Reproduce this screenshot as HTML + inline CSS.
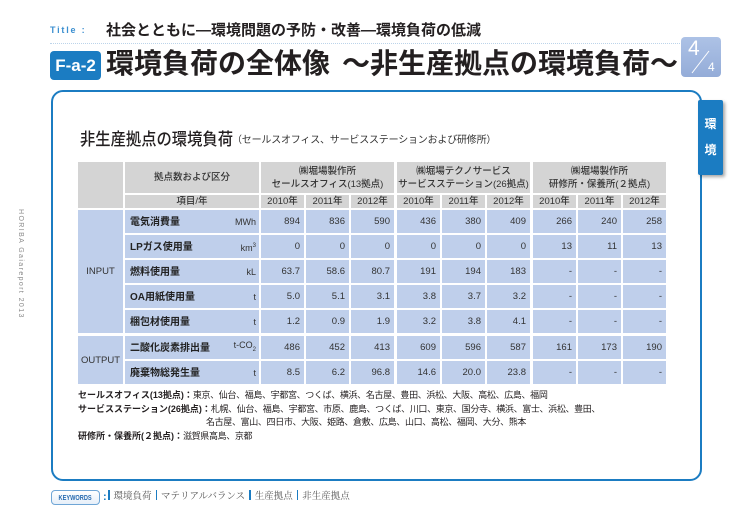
<!DOCTYPE html>
<html><head><meta charset="utf-8">
<style>
*{margin:0;padding:0;box-sizing:border-box}
html,body{width:746px;height:527px;background:#fff;overflow:hidden}
body{position:relative;font-family:"Liberation Sans","Noto Sans CJK JP",sans-serif;color:#231f20}
.a{position:absolute;white-space:nowrap}
.row{position:absolute;left:0;width:746px;height:23px}
.row>div{position:absolute;top:0;height:100%;background:#bfcfeb;display:flex;align-items:center;font-size:9.5px;color:#333;white-space:nowrap;line-height:12px}
.row>.it{left:125px;width:134px;justify-content:space-between;padding:0 3px 0 5px}
.it b{font-size:10px;color:#222;font-weight:bold;position:relative;top:1.5px}
.it span{font-size:9px;color:#333}
.y{justify-content:flex-end;padding-right:4px;width:43px}
.y0{left:261px}.y1{left:306px}.y2{left:351px}.y3{left:397px}.y4{left:442px}.y5{left:487px}.y6{left:533px}.y7{left:578px}.y8{left:623px}
.h{position:absolute;background:#d4d4d4;display:flex;align-items:center;justify-content:center;font-size:9.5px;color:#333;white-space:nowrap;font-weight:500;text-align:center;line-height:13px}
.cat{position:absolute;left:78px;width:45px;background:#bfcfeb;display:flex;align-items:center;justify-content:center;font-size:9.5px;color:#333}
.fn{position:absolute;left:78px;font-size:9px;color:#231f20;white-space:nowrap;line-height:13px}
.fn b{font-weight:bold}
.fn span{letter-spacing:-0.35px}
.kw{font-family:"Liberation Serif","Noto Serif CJK JP","Noto Serif CJK SC",serif;font-size:9.5px;color:#555}
.bar{display:inline-block;width:1.5px;height:10px;background:#1b7cc2;margin:0 4px;vertical-align:-1px}
</style></head><body>

<!-- Title row -->
<div class="a" style="left:50px;top:24px;font-size:9px;font-weight:bold;color:#3b8fd0;letter-spacing:1.8px;line-height:12px">Title :</div>
<div class="a" style="left:106px;top:21px;font-size:15px;font-weight:bold;line-height:19px">社会とともに―環境問題の予防・改善―環境負荷の低減</div>
<div class="a" style="left:50px;top:43px;width:630px;border-top:1.5px dotted #bcd4ea"></div>

<!-- F-a-2 badge & heading -->
<div class="a" style="left:50px;top:51px;width:51px;height:29px;background:#1b7cc2;border-radius:4px;color:#fff;font-family:'Liberation Sans Narrow','Liberation Sans',sans-serif;font-weight:bold;font-size:17px;display:flex;align-items:center;justify-content:center">F-a-2</div>
<div class="a" style="left:106px;top:49px;font-size:28px;font-weight:bold;line-height:30px">環境負荷の全体像</div>
<div class="a" style="left:342px;top:49px;font-size:28px;font-weight:bold;line-height:30px">～非生産拠点の環境負荷～</div>

<!-- 4/4 badge -->
<div class="a" style="left:681px;top:37px;width:40px;height:40px;border-radius:4px;background:linear-gradient(#adc2e6,#94acd8)"></div>
<div class="a" style="left:688px;top:37px;font-size:21px;color:#fff;line-height:24px">4</div>
<svg class="a" style="left:681px;top:37px" width="40" height="40"><line x1="11" y1="36" x2="28" y2="14" stroke="#fff" stroke-width="1"/></svg>
<div class="a" style="left:708px;top:60px;font-size:12px;color:#fff;line-height:14px">4</div>

<!-- Main box -->
<div class="a" style="left:51px;top:90px;width:651px;height:391px;border:2.5px solid #1b7cc2;border-radius:12px"></div>

<!-- Tab -->
<div class="a" style="left:698px;top:100px;width:25px;height:75px;background:#1b7cc2;border-radius:2px;box-shadow:2px 2px 3px rgba(0,0,0,0.35)"></div>
<div class="a" style="left:698px;top:117px;width:25px;text-align:center;color:#fff;font-weight:bold;font-size:12px;line-height:14px">環</div>
<div class="a" style="left:698px;top:143px;width:25px;text-align:center;color:#fff;font-weight:bold;font-size:12px;line-height:14px">境</div>

<!-- Side vertical text -->
<div class="a" style="left:16px;top:209px;writing-mode:vertical-rl;font-size:7px;letter-spacing:1.4px;color:#8a8a8a;line-height:8px">HORIBA Gaiareport 2013</div>

<!-- Subheading -->
<div class="a" style="left:80px;top:129px;font-size:17px;font-weight:500;line-height:22px;color:#231f20;transform:scaleX(0.9);transform-origin:0 0">非生産拠点の環境負荷</div>
<div class="a" style="left:232px;top:134px;font-size:10px;line-height:14px;color:#333;letter-spacing:-0.2px">（セールスオフィス、サービスステーションおよび研修所）</div>

<!-- Table headers -->
<div class="h" style="left:78px;top:162px;width:45px;height:46px"></div>
<div class="h" style="left:125px;top:162px;width:134px;height:31px">拠点数および区分</div>
<div class="h" style="left:261px;top:162px;width:133px;height:31px">㈱堀場製作所<br>セールスオフィス(13拠点)</div>
<div class="h" style="left:397px;top:162px;width:133px;height:31px">㈱堀場テクノサービス<br>サービスステーション(26拠点)</div>
<div class="h" style="left:533px;top:162px;width:133px;height:31px">㈱堀場製作所<br>研修所・保養所(２拠点)</div>

<div class="h" style="left:125px;top:195px;width:134px;height:13px">項目/年</div>
<div class="h" style="left:261px;top:195px;width:43px;height:13px">2010年</div>
<div class="h" style="left:306px;top:195px;width:43px;height:13px">2011年</div>
<div class="h" style="left:351px;top:195px;width:43px;height:13px">2012年</div>
<div class="h" style="left:397px;top:195px;width:43px;height:13px">2010年</div>
<div class="h" style="left:442px;top:195px;width:43px;height:13px">2011年</div>
<div class="h" style="left:487px;top:195px;width:43px;height:13px">2012年</div>
<div class="h" style="left:533px;top:195px;width:43px;height:13px">2010年</div>
<div class="h" style="left:578px;top:195px;width:43px;height:13px">2011年</div>
<div class="h" style="left:623px;top:195px;width:43px;height:13px">2012年</div>

<div class="cat" style="top:210px;height:123px">INPUT</div>
<div class="cat" style="top:336px;height:48px">OUTPUT</div>

<div class="row" style="top:210px">
 <div class="it"><b>電気消費量</b><span>MWh</span></div>
 <div class="y y0">894</div><div class="y y1">836</div><div class="y y2">590</div>
 <div class="y y3">436</div><div class="y y4">380</div><div class="y y5">409</div>
 <div class="y y6">266</div><div class="y y7">240</div><div class="y y8">258</div>
</div>
<div class="row" style="top:235px">
 <div class="it"><b>LPガス使用量</b><span>km<sup style="font-size:6px">3</sup></span></div>
 <div class="y y0">0</div><div class="y y1">0</div><div class="y y2">0</div>
 <div class="y y3">0</div><div class="y y4">0</div><div class="y y5">0</div>
 <div class="y y6">13</div><div class="y y7">11</div><div class="y y8">13</div>
</div>
<div class="row" style="top:260px">
 <div class="it"><b>燃料使用量</b><span>kL</span></div>
 <div class="y y0">63.7</div><div class="y y1">58.6</div><div class="y y2">80.7</div>
 <div class="y y3">191</div><div class="y y4">194</div><div class="y y5">183</div>
 <div class="y y6">-</div><div class="y y7">-</div><div class="y y8">-</div>
</div>
<div class="row" style="top:285px">
 <div class="it"><b>OA用紙使用量</b><span>t</span></div>
 <div class="y y0">5.0</div><div class="y y1">5.1</div><div class="y y2">3.1</div>
 <div class="y y3">3.8</div><div class="y y4">3.7</div><div class="y y5">3.2</div>
 <div class="y y6">-</div><div class="y y7">-</div><div class="y y8">-</div>
</div>
<div class="row" style="top:310px">
 <div class="it"><b>梱包材使用量</b><span>t</span></div>
 <div class="y y0">1.2</div><div class="y y1">0.9</div><div class="y y2">1.9</div>
 <div class="y y3">3.2</div><div class="y y4">3.8</div><div class="y y5">4.1</div>
 <div class="y y6">-</div><div class="y y7">-</div><div class="y y8">-</div>
</div>
<div class="row" style="top:336px">
 <div class="it"><b>二酸化炭素排出量</b><span>t-CO<sub style="font-size:6px">2</sub></span></div>
 <div class="y y0">486</div><div class="y y1">452</div><div class="y y2">413</div>
 <div class="y y3">609</div><div class="y y4">596</div><div class="y y5">587</div>
 <div class="y y6">161</div><div class="y y7">173</div><div class="y y8">190</div>
</div>
<div class="row" style="top:361px">
 <div class="it"><b>廃棄物総発生量</b><span>t</span></div>
 <div class="y y0">8.5</div><div class="y y1">6.2</div><div class="y y2">96.8</div>
 <div class="y y3">14.6</div><div class="y y4">20.0</div><div class="y y5">23.8</div>
 <div class="y y6">-</div><div class="y y7">-</div><div class="y y8">-</div>
</div>

<!-- Footnotes -->
<div class="fn" style="top:389px"><b>セールスオフィス(13拠点)：</b><span>東京、仙台、福島、宇都宮、つくば、横浜、名古屋、豊田、浜松、大阪、高松、広島、福岡</span></div>
<div class="fn" style="top:403px"><b>サービスステーション(26拠点)：</b><span>札幌、仙台、福島、宇都宮、市原、鹿島、つくば、川口、東京、国分寺、横浜、富士、浜松、豊田、</span></div>
<div class="fn" style="top:416px;left:206px"><span>名古屋、富山、四日市、大阪、姫路、倉敷、広島、山口、高松、福岡、大分、熊本</span></div>
<div class="fn" style="top:430px"><b>研修所・保養所(２拠点)：</b><span>滋賀県高島、京都</span></div>

<!-- Keywords -->
<div class="a" style="left:51px;top:490px;width:49px;height:15px;border:1.5px solid #6fa6d6;border-radius:4px;background:linear-gradient(#ffffff,#e6eff9);display:flex;align-items:center;justify-content:center"><span style="font-size:7.5px;font-weight:bold;color:#2a6cb0;transform:scaleX(0.75);display:inline-block">KEYWORDS</span></div>
<div class="a" style="left:103px;top:490px;line-height:15px;font-size:11px;font-weight:bold;color:#1b7cc2">:</div>
<div class="a kw" style="left:108px;top:490px;line-height:15px"><span class="bar" style="margin-left:0"></span>環境負荷<span class="bar"></span>マテリアルバランス<span class="bar"></span>生産拠点<span class="bar"></span>非生産拠点</div>

</body></html>
